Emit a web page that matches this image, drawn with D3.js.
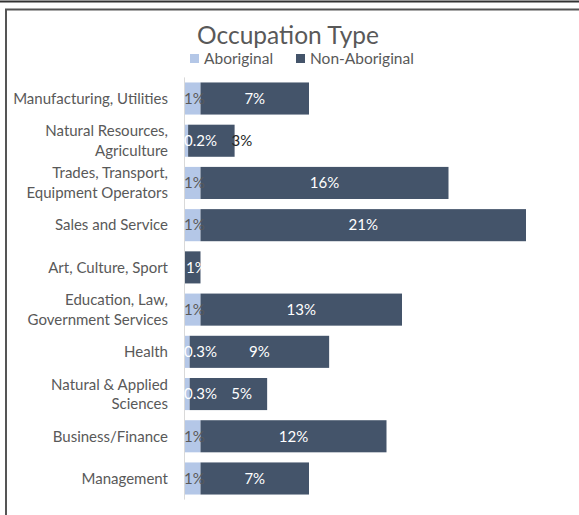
<!DOCTYPE html>
<html>
<head>
<meta charset="utf-8">
<script src="https://cdn.jsdelivr.net/npm/d3@7"></script>
<style>
  html, body { margin: 0; padding: 0; background: #fff; }
  svg { display: block; }
  text { font-family: Lato, "Open Sans", sans-serif; }
</style>
</head>
<body>
<svg id="chart" width="579" height="515"></svg>
<script>
// Occupation categories, top to bottom
const categories = [
  "Manufacturing, Utilities",
  "Natural Resources, Agriculture",
  "Trades, Transport, Equipment Operators",
  "Sales and Service",
  "Art, Culture, Sport",
  "Education, Law, Government Services",
  "Health",
  "Natural & Applied Sciences",
  "Business/Finance",
  "Management"
];
// How each category name breaks onto lines
const categoryLines = [
  ["Manufacturing, Utilities"],
  ["Natural Resources,", "Agriculture"],
  ["Trades, Transport,", "Equipment Operators"],
  ["Sales and Service"],
  ["Art, Culture, Sport"],
  ["Education, Law,", "Government Services"],
  ["Health"],
  ["Natural & Applied", "Sciences"],
  ["Business/Finance"],
  ["Management"]
];
// Share of workers (%) in each occupation
const aboriginal    = [1, 0.2, 1, 1, 0, 1, 0.3, 0.3, 1, 1];
const nonAboriginal = [7, 3, 16, 21, 1, 13, 9, 5, 12, 7];
const seriesNames = ["Aboriginal", "Non-Aboriginal"];
const seriesColors = ["#b4c7e7", "#44546a"];

const svg = d3.select("#chart");

// Frame lines
svg.append("line").attr("x1", 0).attr("x2", 579).attr("y1", 1.5).attr("y2", 1.5)
  .attr("stroke", "#333").attr("stroke-width", 2);
svg.append("path").attr("d", "M6,515 V9.5 H579")
  .attr("fill", "none").attr("stroke", "#555").attr("stroke-width", 2);

const x = d3.scaleLinear().domain([0, 22]).range([185, 526]);
const y = d3.scaleBand().domain(categories).range([77.4, 499.6]).paddingInner(0.24).paddingOuter(0.12);

const rows = categories.map((c, i) => ({ cat: c, Aboriginal: aboriginal[i], "Non-Aboriginal": nonAboriginal[i] }));
const stacked = d3.stack().keys(seriesNames)(rows);

// Title
svg.append("text").attr("x", 288).attr("y", 44).attr("text-anchor", "middle")
  .attr("font-size", 24.5).attr("fill", "#595959").text("Occupation Type");

// Legend
const legendItems = [{ x: 190, label: seriesNames[0], color: seriesColors[0] },
                     { x: 296, label: seriesNames[1], color: seriesColors[1] }];
const lg = svg.append("g");
legendItems.forEach(d => {
  lg.append("rect").attr("x", d.x).attr("y", 54).attr("width", 9).attr("height", 9).attr("fill", d.color);
  lg.append("text").attr("x", d.x + 14).attr("y", 64).attr("font-size", 15.5)
    .attr("fill", "#595959").text(d.label);
});

// Bars
stacked.forEach((layer, si) => {
  svg.append("g").selectAll("rect").data(layer).join("rect")
    .attr("x", d => x(d[0]))
    .attr("y", d => y(d.data.cat))
    .attr("width", d => x(d[1]) - x(d[0]))
    .attr("height", y.bandwidth())
    .attr("fill", seriesColors[si]);
});

// Category axis line
svg.append("line").attr("x1", 184.5).attr("x2", 184.5)
  .attr("y1", y.range()[0]).attr("y2", y.range()[1])
  .attr("stroke", "#d9d9d9").attr("stroke-width", 1);

// Category labels
const lineH = 19.5;
const cats = svg.append("g");
categories.forEach((c, i) => {
  const lines = categoryLines[i];
  const cy = y(c) + y.bandwidth() / 2;
  const t = cats.append("text").attr("text-anchor", "end").attr("font-size", 15).attr("fill", "#595959");
  lines.forEach((ln, j) => {
    t.append("tspan").attr("x", 168)
      .attr("y", cy + (j - (lines.length - 1) / 2) * lineH)
      .attr("dy", "0.35em").text(ln);
  });
});

// Value labels
const fmt = v => (v < 1 ? d3.format(".1f")(v) : d3.format("d")(v)) + "%";
const labels = svg.append("g").attr("font-size", 15);
stacked[0].forEach((d, i) => {
  const v = aboriginal[i];
  if (v <= 0) return;
  labels.append("text").attr("x", x(d[0]) - 1).attr("y", y(d.data.cat) + y.bandwidth() / 2)
    .attr("dy", "0.35em").attr("fill", v < 0.5 ? "#ffffff" : "#595959").text(fmt(v));
});
stacked[1].forEach((d, i) => {
  const v = nonAboriginal[i];
  const x0 = x(d[0]), x1 = x(d[1]);
  const w = x1 - x0;
  const cy = y(d.data.cat) + y.bandwidth() / 2;
  let lx, anchor = "middle", fill = "#ffffff";
  if (aboriginal[i] === 0) {
    // no Aboriginal segment: label sits at the bar start
    lx = x0 + 1; anchor = "start";
  } else if (w < 60) {
    // short segment: label straddles the bar end
    lx = x1 - 3; anchor = "start"; fill = "#262626";
  } else {
    lx = (x0 + x1) / 2;
    if (aboriginal[i] < 1) lx = Math.max(lx, x0 + 52);
  }
  labels.append("text").attr("x", lx).attr("y", cy)
    .attr("dy", "0.35em").attr("text-anchor", anchor).attr("fill", fill).text(fmt(v));
});
</script>
</body>
</html>
